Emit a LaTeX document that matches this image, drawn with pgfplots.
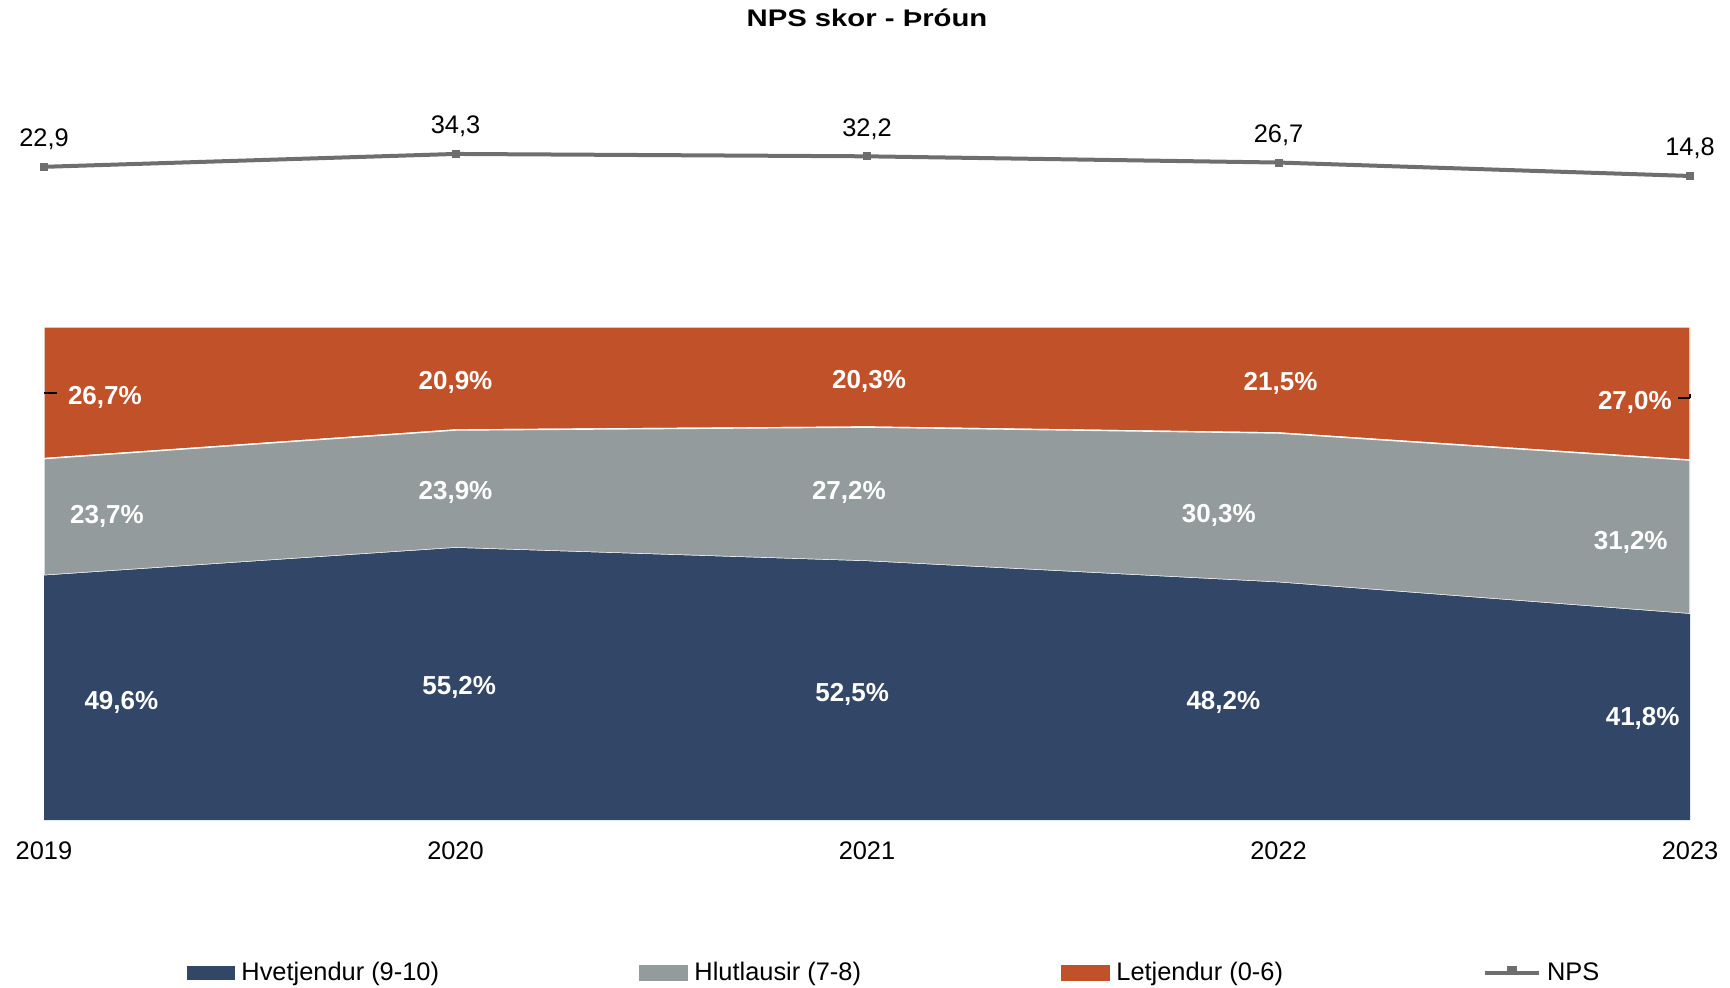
\documentclass[border=0pt]{standalone}
\usepackage{pgfplots}
\pgfplotsset{compat=1.18}
\usepackage{fontspec}
\setmainfont{Liberation Sans}
\newfontfamily\titlefont[FakeStretch=1.22]{Liberation Sans}

\definecolor{promo}{HTML}{324668}
\definecolor{passive}{HTML}{949B9C}
\definecolor{detract}{HTML}{C05128}
\definecolor{npsgray}{HTML}{6E6E6E}

\pgfplotsset{/pgf/number format/.cd, use comma, fixed, fixed zerofill, precision=1, assume math mode=true}

\begin{document}
\begin{tikzpicture}[lbl/.style={font=\bfseries\fontsize{13}{15}\selectfont, text=white}]
\path[use as bounding box] (-22pt,-83.5pt) rectangle (843pt,410pt);

% title
\node[font=\titlefont\bfseries\fontsize{12}{14}\selectfont] at (411.5pt,401pt) {NPS skor - Þróun};

% stacked shares
\begin{axis}[
    at={(0pt,0pt)}, anchor=south west,
    scale only axis, width=823pt, height=246.5pt,
    xmin=0, xmax=4, ymin=0, ymax=100,
    stack plots=y,
    axis line style={draw=none},
    ytick=\empty,
    xtick={0,1,2,3,4},
    xticklabels={2019,2020,2021,2022,2023},
    major tick length=0pt,
    xticklabel style={font=\fontsize{12.7}{15}\selectfont, yshift=-7.5pt},
    legend style={at={(axis description cs:0.0869,-0.3103)}, anchor=west,
        draw=none, fill=none, inner sep=0pt,
        font=\fontsize{12.7}{15}\selectfont,
        nodes={inner sep=2pt},
        /tikz/every odd column/.append style={column sep=1pt},
        /tikz/every even column/.append style={column sep=98pt}},
    legend columns=4,
    legend cell align=left,
]
\addplot[fill=promo, draw=none,
    legend image code/.code={\fill[promo] (0pt,-3.5pt) rectangle (24pt,3.5pt);}]
    coordinates {(0,49.6) (1,55.2) (2,52.5) (3,48.2) (4,41.8)} \closedcycle;
\addlegendentry{Hvetjendur (9-10)}
\addplot[fill=passive, draw=white, line width=0.7pt,
    legend image code/.code={\fill[passive] (0pt,-3.5pt) rectangle (24pt,3.5pt);}]
    coordinates {(0,23.7) (1,23.9) (2,27.2) (3,30.3) (4,31.2)} \closedcycle;
\addlegendentry{Hlutlausir (7-8)}
\addplot[fill=detract, draw=white, line width=0.7pt,
    legend image code/.code={\fill[detract] (0pt,-3.5pt) rectangle (24pt,3.5pt);}]
    coordinates {(0,26.7) (1,20.9) (2,20.3) (3,21.5) (4,27.0)} \closedcycle;
\addlegendentry{Letjendur (0-6)}
\addlegendimage{npsgray, line width=2pt,
    legend image code/.code={\draw[npsgray, line width=2pt] (0pt,0pt) -- (27pt,0pt);
        \fill[npsgray] (12pt,0pt) rectangle (15pt,2.5pt);}}
\addlegendentry{NPS}

% label anchors
\coordinate (d1) at (axis cs:0.148,85.8);
\coordinate (d2) at (axis cs:1.000,88.8);
\coordinate (d3) at (axis cs:2.005,89.0);
\coordinate (d4) at (axis cs:3.005,88.6);
\coordinate (d5) at (axis cs:3.866,84.6);
\coordinate (p1) at (axis cs:0.153,61.5);
\coordinate (p2) at (axis cs:1.000,66.5);
\coordinate (p3) at (axis cs:1.956,66.5);
\coordinate (p4) at (axis cs:2.855,61.7);
\coordinate (p5) at (axis cs:3.856,56.4);
\coordinate (h1) at (axis cs:0.188,23.9);
\coordinate (h2) at (axis cs:1.009,26.8);
\coordinate (h3) at (axis cs:1.964,25.5);
\coordinate (h4) at (axis cs:2.866,23.9);
\coordinate (h5) at (axis cs:3.885,20.7);
\coordinate (tl) at (axis cs:0,86.6);
\coordinate (tr) at (axis cs:4,85.6);
\end{axis}

% data labels
\node[lbl] at (d1) {26,7\%};
\node[lbl] at (d2) {20,9\%};
\node[lbl] at (d3) {20,3\%};
\node[lbl] at (d4) {21,5\%};
\node[lbl] at (d5) {27,0\%};
\node[lbl] at (p1) {23,7\%};
\node[lbl] at (p2) {23,9\%};
\node[lbl] at (p3) {27,2\%};
\node[lbl] at (p4) {30,3\%};
\node[lbl] at (p5) {31,2\%};
\node[lbl] at (h1) {49,6\%};
\node[lbl] at (h2) {55,2\%};
\node[lbl] at (h3) {52,5\%};
\node[lbl] at (h4) {48,2\%};
\node[lbl] at (h5) {41,8\%};

% stray axis ticks
\draw[black, line width=0.8pt] (tl) -- ++(6.5pt,0pt);
\draw[black, line width=0.8pt] (tr) -- ++(-6pt,0pt);
\draw[black, line width=0.8pt] (tr) -- ++(0pt,1.8pt);

% NPS line
\begin{axis}[
    at={(0pt,310pt)}, anchor=south west,
    scale only axis, width=823pt, height=35pt,
    xmin=0, xmax=4, ymin=-6.46, ymax=55.5,
    hide axis, clip=false,
]
\addplot[npsgray, line width=2pt, mark=square*, mark size=1.75pt,
    mark options={solid, line width=0.4pt},
    nodes near coords, point meta=y,
    every node near coord/.append style={font=\fontsize{12.7}{15}\selectfont, text=black, yshift=5pt}]
    coordinates {(0,22.9) (1,34.3) (2,32.2) (3,26.7) (4,14.8)};
\end{axis}
\end{tikzpicture}
\end{document}
